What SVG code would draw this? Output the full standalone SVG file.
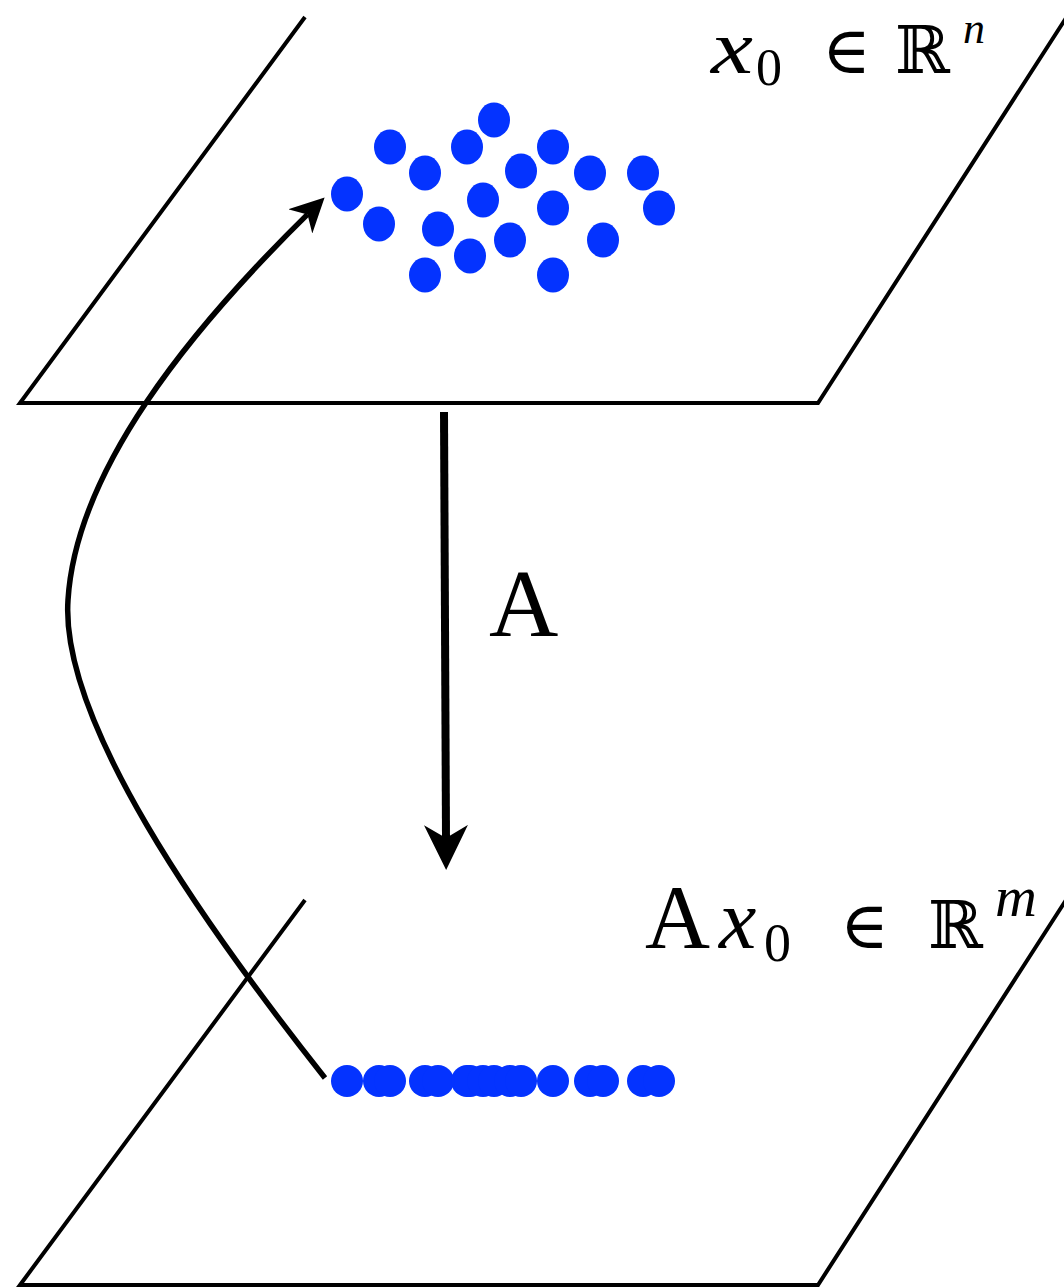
<svg xmlns="http://www.w3.org/2000/svg" width="1064" height="1288" viewBox="0 0 1064 1288">
<defs>
<style>
.plane{fill:none;stroke:#000;stroke-width:4;stroke-linejoin:miter}
.dot{fill:#0433ff}
.conn{fill:none;stroke:#000}
.lbl{font-family:"Liberation Serif","DejaVu Serif",serif;fill:#000}
.it{font-style:italic}
.sym{font-family:"DejaVu Serif","Liberation Serif",serif}
</style>
<marker id="headA" viewBox="0 -22 45 44" refX="13" refY="0" markerWidth="45" markerHeight="44" orient="auto" markerUnits="userSpaceOnUse">
<path d="M0,-22 L45,0 L0,22 L13,0 Z" fill="#000"/>
</marker>
<marker id="headB" viewBox="0 -17 34 34" refX="10" refY="0" markerWidth="34" markerHeight="34" orient="auto" markerUnits="userSpaceOnUse">
<path d="M0,-17 L34,0 L0,17 L10,0 Z" fill="#000"/>
</marker>
</defs>
<rect width="1064" height="1288" fill="#fff"/>
<g id="plane-top">
<path class="plane" d="M305,17 L20,403 L818,403 L1066,18"/>
</g>
<g id="plane-bottom">
<path class="plane" d="M305,900 L20,1285 L818,1285 L1066,900"/>
</g>
<g id="points-top">
<ellipse class="dot" cx="494" cy="120" rx="16" ry="17.5"/>
<ellipse class="dot" cx="390" cy="147" rx="16" ry="17.5"/>
<ellipse class="dot" cx="467" cy="147" rx="16" ry="17.5"/>
<ellipse class="dot" cx="553" cy="147" rx="16" ry="17.5"/>
<ellipse class="dot" cx="425" cy="173" rx="16" ry="17.5"/>
<ellipse class="dot" cx="521" cy="171" rx="16" ry="17.5"/>
<ellipse class="dot" cx="590" cy="173" rx="16" ry="17.5"/>
<ellipse class="dot" cx="643" cy="173" rx="16" ry="17.5"/>
<ellipse class="dot" cx="347" cy="194" rx="16" ry="17.5"/>
<ellipse class="dot" cx="483" cy="200" rx="16" ry="17.5"/>
<ellipse class="dot" cx="553" cy="208" rx="16" ry="17.5"/>
<ellipse class="dot" cx="659" cy="208" rx="16" ry="17.5"/>
<ellipse class="dot" cx="379" cy="224" rx="16" ry="17.5"/>
<ellipse class="dot" cx="438" cy="229" rx="16" ry="17.5"/>
<ellipse class="dot" cx="510" cy="240" rx="16" ry="17.5"/>
<ellipse class="dot" cx="603" cy="240" rx="16" ry="17.5"/>
<ellipse class="dot" cx="470" cy="256" rx="16" ry="17.5"/>
<ellipse class="dot" cx="425" cy="275" rx="16" ry="17.5"/>
<ellipse class="dot" cx="553" cy="275" rx="16" ry="17.5"/>
</g>
<g id="points-bottom">
<circle class="dot" cx="347" cy="1081" r="16"/>
<circle class="dot" cx="379" cy="1081" r="16"/>
<circle class="dot" cx="390" cy="1081" r="16"/>
<circle class="dot" cx="425" cy="1081" r="16"/>
<circle class="dot" cx="438" cy="1081" r="16"/>
<circle class="dot" cx="467" cy="1081" r="16"/>
<circle class="dot" cx="470" cy="1081" r="16"/>
<circle class="dot" cx="483" cy="1081" r="16"/>
<circle class="dot" cx="494" cy="1081" r="16"/>
<circle class="dot" cx="510" cy="1081" r="16"/>
<circle class="dot" cx="521" cy="1081" r="16"/>
<circle class="dot" cx="553" cy="1081" r="16"/>
<circle class="dot" cx="590" cy="1081" r="16"/>
<circle class="dot" cx="603" cy="1081" r="16"/>
<circle class="dot" cx="643" cy="1081" r="16"/>
<circle class="dot" cx="659" cy="1081" r="16"/>
</g>
<g id="connectors">
<path class="conn" stroke-width="8" d="M444,412 L446,838" marker-end="url(#headA)"/>
<path class="conn" stroke-width="5.5" d="M325,1078 C200,920 60,720 68,600 C76,470 190,330 307.5,214.4" marker-end="url(#headB)"/>
</g>
<g id="label-top">
<text class="lbl" font-size="66"><tspan class="it" x="711" y="73" font-size="76" textLength="42" lengthAdjust="spacingAndGlyphs">x</tspan><tspan x="756" y="85" font-size="52">0</tspan><tspan class="sym" x="822" y="73">∈</tspan><tspan class="sym" x="895" y="73">ℝ</tspan><tspan class="it" x="963" y="43" font-size="44">n</tspan></text>
</g>
<g id="label-map">
<text class="lbl" font-size="96" x="489" y="636">A</text>
</g>
<g id="label-bottom">
<text class="lbl" font-size="90"><tspan x="645" y="948">A</tspan><tspan class="it" x="719" y="948" font-size="84">x</tspan><tspan x="764" y="961" font-size="54">0</tspan><tspan class="sym" x="840" y="948" font-size="66">∈</tspan><tspan class="sym" x="928" y="948" font-size="66">ℝ</tspan><tspan class="it" x="995" y="916" font-size="58">m</tspan></text>
</g>
</svg>
